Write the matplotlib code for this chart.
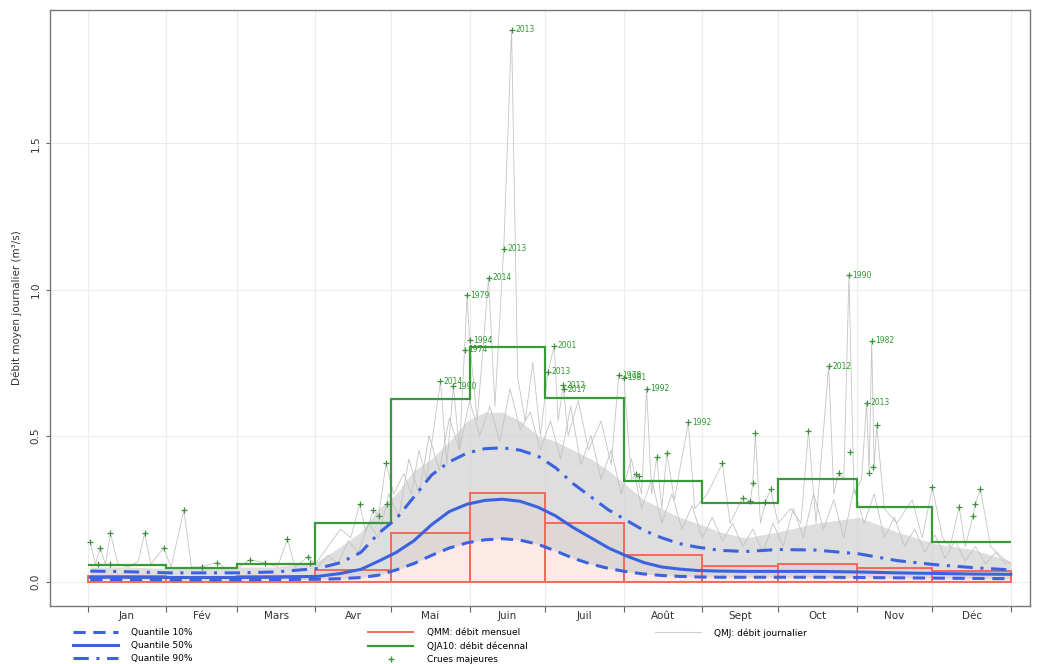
import numpy as np
import matplotlib
matplotlib.use("Agg")
from matplotlib import pyplot as plt
from matplotlib.lines import Line2D

# --- data (days counted from 1 Jan = 0) ---
mois = ['Jan', 'Fév', 'Mars', 'Avr', 'Mai', 'Juin', 'Juil', 'Août', 'Sept', 'Oct', 'Nov', 'Déc']
jours_mois = [31, 28, 31, 30, 31, 30, 31, 31, 30, 31, 30, 31]

qmm = [0.020, 0.015, 0.018, 0.040, 0.168, 0.305, 0.200, 0.090, 0.052, 0.060, 0.045, 0.035]
qja10 = [0.058, 0.048, 0.062, 0.200, 0.624, 0.803, 0.628, 0.345, 0.270, 0.350, 0.255, 0.135]

q_jours = [1, 15, 32, 46, 60, 74, 91, 100, 108, 115, 122, 129, 136, 143, 150, 157, 164, 171,
           178, 185, 192, 199, 206, 213, 220, 227, 234, 241, 250, 260, 273, 288, 305, 320,
           335, 350, 365]
q10 = [0.007, 0.007, 0.006, 0.006, 0.006, 0.007, 0.008, 0.010, 0.014, 0.022, 0.040, 0.062,
       0.090, 0.115, 0.133, 0.143, 0.147, 0.142, 0.128, 0.105, 0.080, 0.060, 0.045, 0.034,
       0.026, 0.021, 0.018, 0.016, 0.015, 0.015, 0.015, 0.015, 0.014, 0.013, 0.012, 0.011,
       0.010]
q50 = [0.015, 0.015, 0.014, 0.014, 0.014, 0.015, 0.018, 0.028, 0.042, 0.070, 0.100, 0.140,
       0.195, 0.240, 0.265, 0.278, 0.282, 0.275, 0.255, 0.225, 0.185, 0.150, 0.115, 0.088,
       0.065, 0.050, 0.043, 0.038, 0.036, 0.035, 0.035, 0.035, 0.033, 0.030, 0.028, 0.026,
       0.025]
q90 = [0.036, 0.034, 0.030, 0.030, 0.030, 0.033, 0.045, 0.065, 0.100, 0.165, 0.215, 0.290,
       0.365, 0.410, 0.440, 0.455, 0.458, 0.450, 0.430, 0.390, 0.335, 0.290, 0.245, 0.210,
       0.175, 0.150, 0.130, 0.118, 0.107, 0.103, 0.110, 0.108, 0.095, 0.072, 0.058, 0.048,
       0.040]
# dense part of the daily curves (upper limit of the grey mass)
qmj_haut = [0.050, 0.050, 0.045, 0.045, 0.050, 0.050, 0.070, 0.120, 0.170, 0.250, 0.300,
            0.380, 0.420, 0.480, 0.550, 0.580, 0.580, 0.550, 0.500, 0.480, 0.450, 0.420,
            0.380, 0.330, 0.280, 0.250, 0.220, 0.200, 0.170, 0.150, 0.170, 0.200, 0.220,
            0.170, 0.130, 0.110, 0.070]

# highest daily values (spikes)
qmj_max_jours = [1, 3, 5, 7, 9, 12, 16, 20, 22.5, 25, 30, 33, 38, 41, 45, 51, 55, 60, 64, 70,
                 75, 79, 82, 87, 90, 95, 100, 104, 107.5, 110, 113, 115, 118, 121, 125, 128,
                 131, 134, 139.5, 142, 144.6, 147, 149, 150, 151, 154, 158.5, 161, 164.5,
                 167.6, 170, 173, 176, 179, 182, 184.5, 186, 188, 190, 194, 198, 203, 207,
                 210, 212, 215, 217, 219, 221, 223, 225, 227, 229, 232, 237.5, 240, 245, 251,
                 254, 259, 262, 263, 264, 266, 268, 270, 273, 278, 282, 285, 288, 293, 295,
                 297, 299, 301, 303, 306, 308, 309, 310, 311, 312, 315, 320, 326, 330, 334,
                 338, 341, 344.6, 347, 350, 351, 353, 357, 362, 365]
qmj_max = [0.135, 0.060, 0.115, 0.060, 0.165, 0.060, 0.050, 0.070, 0.165, 0.060, 0.115,
           0.050, 0.245, 0.050, 0.050, 0.065, 0.045, 0.050, 0.075, 0.065, 0.050, 0.145,
           0.050, 0.085, 0.060, 0.120, 0.180, 0.150, 0.265, 0.170, 0.245, 0.225, 0.405,
           0.300, 0.370, 0.300, 0.450, 0.350, 0.686, 0.400, 0.668, 0.450, 0.793, 0.980,
           0.827, 0.550, 1.040, 0.600, 1.140, 1.890, 0.700, 0.550, 0.750, 0.500, 0.718,
           0.807, 0.550, 0.670, 0.500, 0.620, 0.450, 0.550, 0.400, 0.707, 0.700, 0.350,
           0.370, 0.300, 0.660, 0.300, 0.425, 0.250, 0.440, 0.280, 0.545, 0.250, 0.300,
           0.405, 0.200, 0.287, 0.276, 0.338, 0.510, 0.200, 0.272, 0.317, 0.200, 0.250,
           0.200, 0.515, 0.200, 0.738, 0.300, 0.373, 0.350, 1.048, 0.300, 0.350, 0.613,
           0.373, 0.824, 0.393, 0.535, 0.250, 0.200, 0.280, 0.150, 0.323, 0.150, 0.120,
           0.256, 0.120, 0.224, 0.265, 0.317, 0.120, 0.080, 0.060]

# a second, lower daily curve (texture inside the grey mass)
qmj_sec_jours = [91, 95, 99, 103, 107, 111, 115, 119, 123, 127,
                 131, 135, 139, 143, 147, 151, 155, 159, 163, 167,
                 171, 175, 179, 183, 187, 191, 195, 199, 203, 207,
                 211, 215, 219, 223, 227, 231, 235, 239, 243, 247,
                 251, 255, 259, 263, 267, 271, 275, 279, 283, 287,
                 291, 295, 299, 303, 307, 311, 315, 319, 323, 327,
                 331, 335, 339, 343, 347, 351, 355, 359, 363]
qmj_sec = [0.05, 0.09, 0.06, 0.14, 0.10, 0.20, 0.15, 0.30, 0.22, 0.42,
           0.30, 0.50, 0.38, 0.56, 0.45, 0.62, 0.50, 0.60, 0.48, 0.66,
           0.52, 0.58, 0.45, 0.55, 0.42, 0.60, 0.40, 0.50, 0.35, 0.45,
           0.30, 0.42, 0.25, 0.35, 0.20, 0.30, 0.18, 0.26, 0.15, 0.22,
           0.14, 0.20, 0.12, 0.18, 0.10, 0.20, 0.12, 0.25, 0.15, 0.30,
           0.18, 0.28, 0.15, 0.32, 0.20, 0.30, 0.15, 0.22, 0.12, 0.18,
           0.10, 0.16, 0.08, 0.14, 0.07, 0.12, 0.06, 0.10, 0.06]

# major floods
crue_jours = [1, 5, 9, 22.5, 30, 38, 4, 9, 45, 51, 64, 70, 79, 87, 88, 107.5, 113, 115, 118,
              118.5, 139.5, 144.6, 149, 150, 151, 158.5, 164.5, 167.6, 182, 184.5, 188,
              188.5, 210, 212, 217, 218, 221, 225, 229, 237.5, 251, 259, 262, 263, 264, 268,
              270, 285, 293, 297, 301, 301.5, 308, 309, 310, 310.5, 312, 334, 344.6, 350,
              351, 353]
crue_val = [0.135, 0.115, 0.165, 0.165, 0.115, 0.245, 0.060, 0.060, 0.050, 0.065, 0.075,
            0.065, 0.145, 0.085, 0.065, 0.265, 0.245, 0.225, 0.405, 0.265, 0.686, 0.668,
            0.793, 0.980, 0.827, 1.040, 1.140, 1.890, 0.718, 0.807, 0.672, 0.658, 0.707,
            0.698, 0.370, 0.360, 0.660, 0.425, 0.440, 0.545, 0.405, 0.287, 0.276, 0.338,
            0.510, 0.272, 0.317, 0.515, 0.738, 0.373, 1.048, 0.445, 0.613, 0.373, 0.824,
            0.393, 0.535, 0.323, 0.256, 0.224, 0.265, 0.317]
crue_annee = ['', '', '', '', '', '', '', '', '', '', '', '', '', '', '', '', '', '', '', '',
              '2014', '1990', '1974', '1979', '1994', '2014', '2013', '2013', '2013', '2001',
              '2012', '2017', '1978', '1981', '', '', '1992', '', '', '1992', '', '', '', '',
              '', '', '', '', '2012', '', '1990', '', '2013', '', '1982', '', '', '', '', '',
              '', '']

# --- figure ---
bleu = '#3b63e0'
rouge = '#f26a5a'
vert = '#3a9a3a'

fig = plt.figure(figsize=(10.37, 6.64), dpi=100)
ax = fig.add_axes([0.048, 0.088, 0.945, 0.897])

bords = np.concatenate([[0], np.cumsum(jours_mois)])
milieux = (bords[:-1] + bords[1:]) / 2

ax.set_xlim(-15, 372.5)
ax.set_ylim(-0.082, 1.957)

# QMM bars (fill first, outline later)
ax.bar(bords[:-1], qmm, width=jours_mois, align='edge', color='#fde9e6',
       edgecolor='none', zorder=1)

# daily curves
ax.fill_between(q_jours, q10, qmj_haut, color='#d0d0d0', alpha=0.7, lw=0, zorder=2)
ax.plot(qmj_sec_jours, qmj_sec, color='#c2c2c2', lw=0.6, zorder=2)
ax.plot(qmj_max_jours, qmj_max, color='#c4c4c4', lw=0.6, zorder=2)

ax.bar(bords[:-1], qmm, width=jours_mois, align='edge', fill=False,
       edgecolor=rouge, lw=1.4, zorder=3)
ax.stairs(qja10, bords, baseline=None, color=vert, lw=1.6, zorder=4)

ax.plot(q_jours, q10, color=bleu, lw=2.2, ls=(0, (4, 2.5)), zorder=5)
ax.plot(q_jours, q50, color=bleu, lw=2.2, zorder=5)
ax.plot(q_jours, q90, color=bleu, lw=2.2, ls=(0, (5, 2.5, 1, 2.5)), zorder=5)

ax.plot(crue_jours, crue_val, ls='none', marker='+', ms=5, mew=0.9, color='#3f8f3f', zorder=6)
for j, v, a in zip(crue_jours, crue_val, crue_annee):
    if a:
        ax.annotate(a, (j, v), xytext=(2.5, 0), textcoords='offset points',
                    ha='left', va='center', fontsize=5.5, color='#2e9a2e', zorder=6)

# axes styling
ax.set_xticks(bords)
ax.set_xticklabels([])
ax.set_xticks(milieux, minor=True)
ax.set_xticklabels(mois, minor=True)
ax.tick_params(axis='x', which='major', length=4, color='#666')
ax.tick_params(axis='x', which='minor', length=0, labelsize=7.5, labelcolor='#333', pad=4)
ax.set_yticks([0.0, 0.5, 1.0, 1.5])
ax.set_yticklabels(['0.0', '0.5', '1.0', '1.5'], rotation=90, va='center')
ax.tick_params(axis='y', length=3, color='#666', labelsize=7.5, labelcolor='#333')
ax.set_ylabel('Débit moyen journalier (m³/s)', fontsize=7.5, color='#333', labelpad=6)
ax.grid(True, which='major', color='#ececec', lw=0.8, zorder=0)
ax.set_axisbelow(True)
for s in ax.spines.values():
    s.set_color('#777')
    s.set_linewidth(1.0)

# legends
leg_kw = dict(frameon=False, fontsize=6.5, handlelength=5, labelspacing=0.45,
              handletextpad=1.5, borderaxespad=0, borderpad=0)
h1 = [Line2D([], [], color=bleu, lw=2.2, ls=(0, (4, 2.5))),
      Line2D([], [], color=bleu, lw=2.2),
      Line2D([], [], color=bleu, lw=2.2, ls=(0, (5, 2.5, 1, 2.5)))]
h2 = [Line2D([], [], color=rouge, lw=1.4),
      Line2D([], [], color=vert, lw=1.6),
      Line2D([], [], ls='none', marker='+', ms=4, color=vert)]
h3 = [Line2D([], [], color='#cfcfcf', lw=0.8)]
fig.legend(h1, ['Quantile 10%', 'Quantile 50%', 'Quantile 90%'],
           loc='upper left', bbox_to_anchor=(0.07, 0.054), **leg_kw)
fig.legend(h2, ['QMM: débit mensuel', 'QJA10: débit décennal', 'Crues majeures'],
           loc='upper left', bbox_to_anchor=(0.355, 0.054), **leg_kw)
fig.legend(h3, ['QMJ: débit journalier'],
           loc='upper left', bbox_to_anchor=(0.632, 0.054), **leg_kw)

fig.savefig('out.png', dpi=100)
